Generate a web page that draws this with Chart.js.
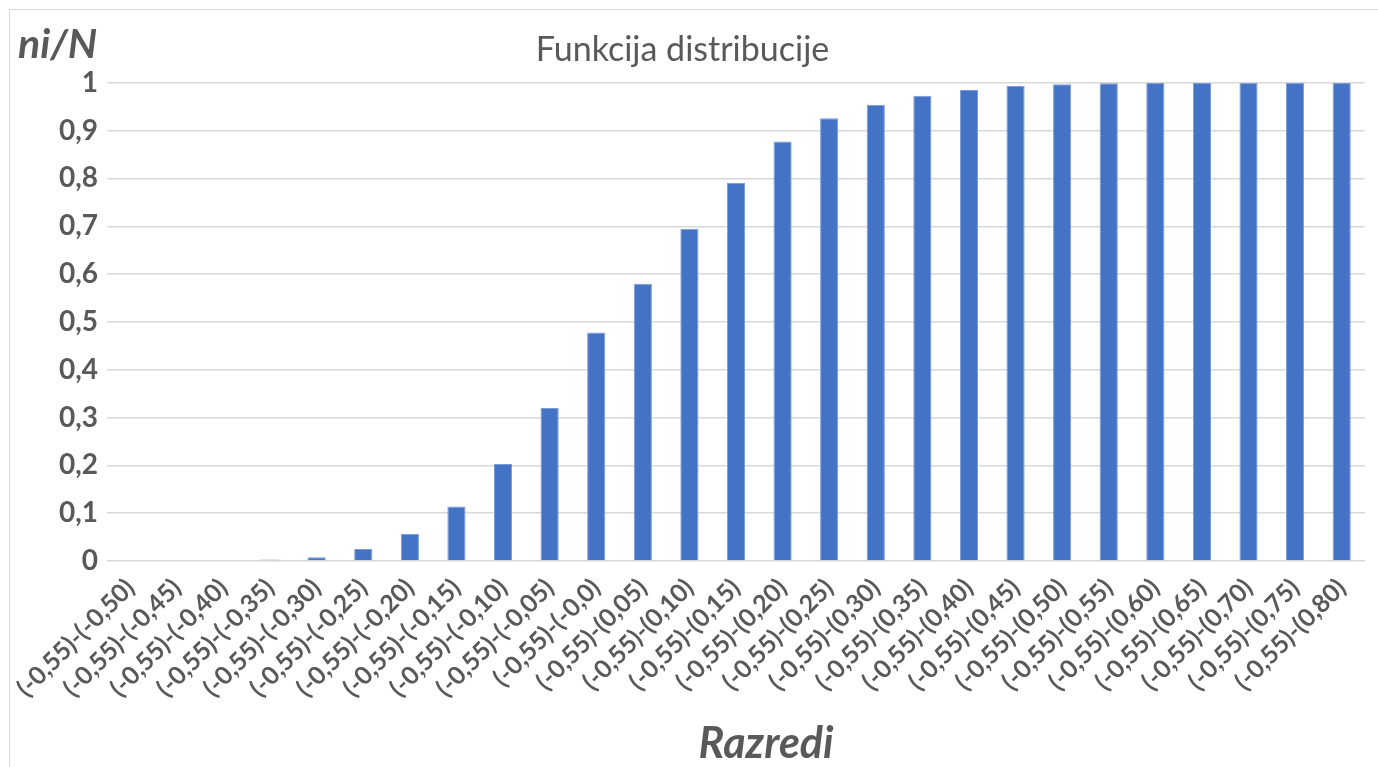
<!DOCTYPE html>
<html lang="hr">
<head>
  <meta charset="UTF-8">
  <title>Funkcija distribucije</title>
  <script src="https://cdn.jsdelivr.net/npm/chart.js"></script>
  <style>
    html, body { margin: 0; padding: 0; background: #fff; }
    #wrap { position: relative; width: 1378px; height: 767px; }
    #frame { position: absolute; left: 9px; top: 9px; width: 1380px; height: 780px; border: 1.5px solid #d9d9d9; box-sizing: border-box; pointer-events: none; }
  </style>
</head>
<body>
  <div id="wrap">
    <canvas id="chart" width="1378" height="767"></canvas>
    <div id="frame"></div>
  </div>

  <script>
    // Razredi (classes) and cumulative relative frequency ni/N
    const upperBounds = ["-0,50", "-0,45", "-0,40", "-0,35", "-0,30", "-0,25", "-0,20", "-0,15", "-0,10", "-0,05",
      "-0,0", "0,05", "0,10", "0,15", "0,20", "0,25", "0,30", "0,35", "0,40", "0,45",
      "0,50", "0,55", "0,60", "0,65", "0,70", "0,75", "0,80"];
    const categories = upperBounds.map(b => "(-0,55)-(" + b + ")");
    const cumulative = [0, 0, 0, 0.003, 0.008, 0.025, 0.057, 0.114, 0.203, 0.320,
      0.478, 0.580, 0.695, 0.791, 0.877, 0.926, 0.954, 0.973, 0.985, 0.994,
      0.997, 0.999, 1, 1, 1, 1, 1];
    const yTicks = [0, 0.1, 0.2, 0.3, 0.4, 0.5, 0.6, 0.7, 0.8, 0.9, 1];

    const textColor = "#595959";
    const fontFamily = "Lato, 'Open Sans', sans-serif";

    // axis captions placed like in the Excel original (not rotated, slightly off-centre)
    const captions = {
      id: "captions",
      afterDraw(chart) {
        const ctx = chart.ctx;
        ctx.save();
        ctx.fillStyle = textColor;
        ctx.textBaseline = "alphabetic";
        ctx.font = "italic bold 41px " + fontFamily;
        ctx.textAlign = "left";
        ctx.fillText("ni/N", 18, 58);
        ctx.font = "italic bold 43px " + fontFamily;
        ctx.textAlign = "center";
        ctx.fillText("Razredi", 766, 758);
        ctx.restore();
      }
    };

    new Chart(document.getElementById("chart"), {
      type: "bar",
      data: {
        labels: categories,
        datasets: [{
          label: "ni/N",
          data: cumulative,
          backgroundColor: "#4472C4",
          borderColor: "#7a9bd6",
          borderWidth: 1,
          categoryPercentage: 1,
          barPercentage: 0.39
        }]
      },
      options: {
        responsive: false,
        animation: false,
        layout: { padding: { left: 0, right: 13, top: 0, bottom: 0 } },
        plugins: {
          legend: { display: false },
          tooltip: { enabled: false },
          title: {
            display: true,
            text: "Funkcija distribucije",
            color: textColor,
            font: { family: fontFamily, size: 34, weight: "normal" },
            padding: { top: 30, bottom: 12 }
          }
        },
        scales: {
          x: {
            grid: { display: false },
            border: { display: false },
            ticks: {
              color: textColor,
              font: { family: fontFamily, size: 25, weight: "bold" },
              minRotation: 45,
              maxRotation: 45,
              autoSkip: false,
              padding: 4
            },
            afterFit(scale) { scale.height = 206; }
          },
          y: {
            min: 0,
            max: 1,
            afterBuildTicks(scale) { scale.ticks = yTicks.map(v => ({ value: v })); },
            grid: { color: "#d9d9d9", lineWidth: 1.5, drawTicks: false },
            border: { display: false },
            ticks: {
              color: textColor,
              font: { family: fontFamily, size: 28, weight: "bold" },
              padding: 9,
              callback: v => String(Math.round(v * 10) / 10).replace(".", ",")
            },
            afterFit(scale) { scale.width = 107; }
          }
        }
      },
      plugins: [captions]
    });
  </script>
</body>
</html>
